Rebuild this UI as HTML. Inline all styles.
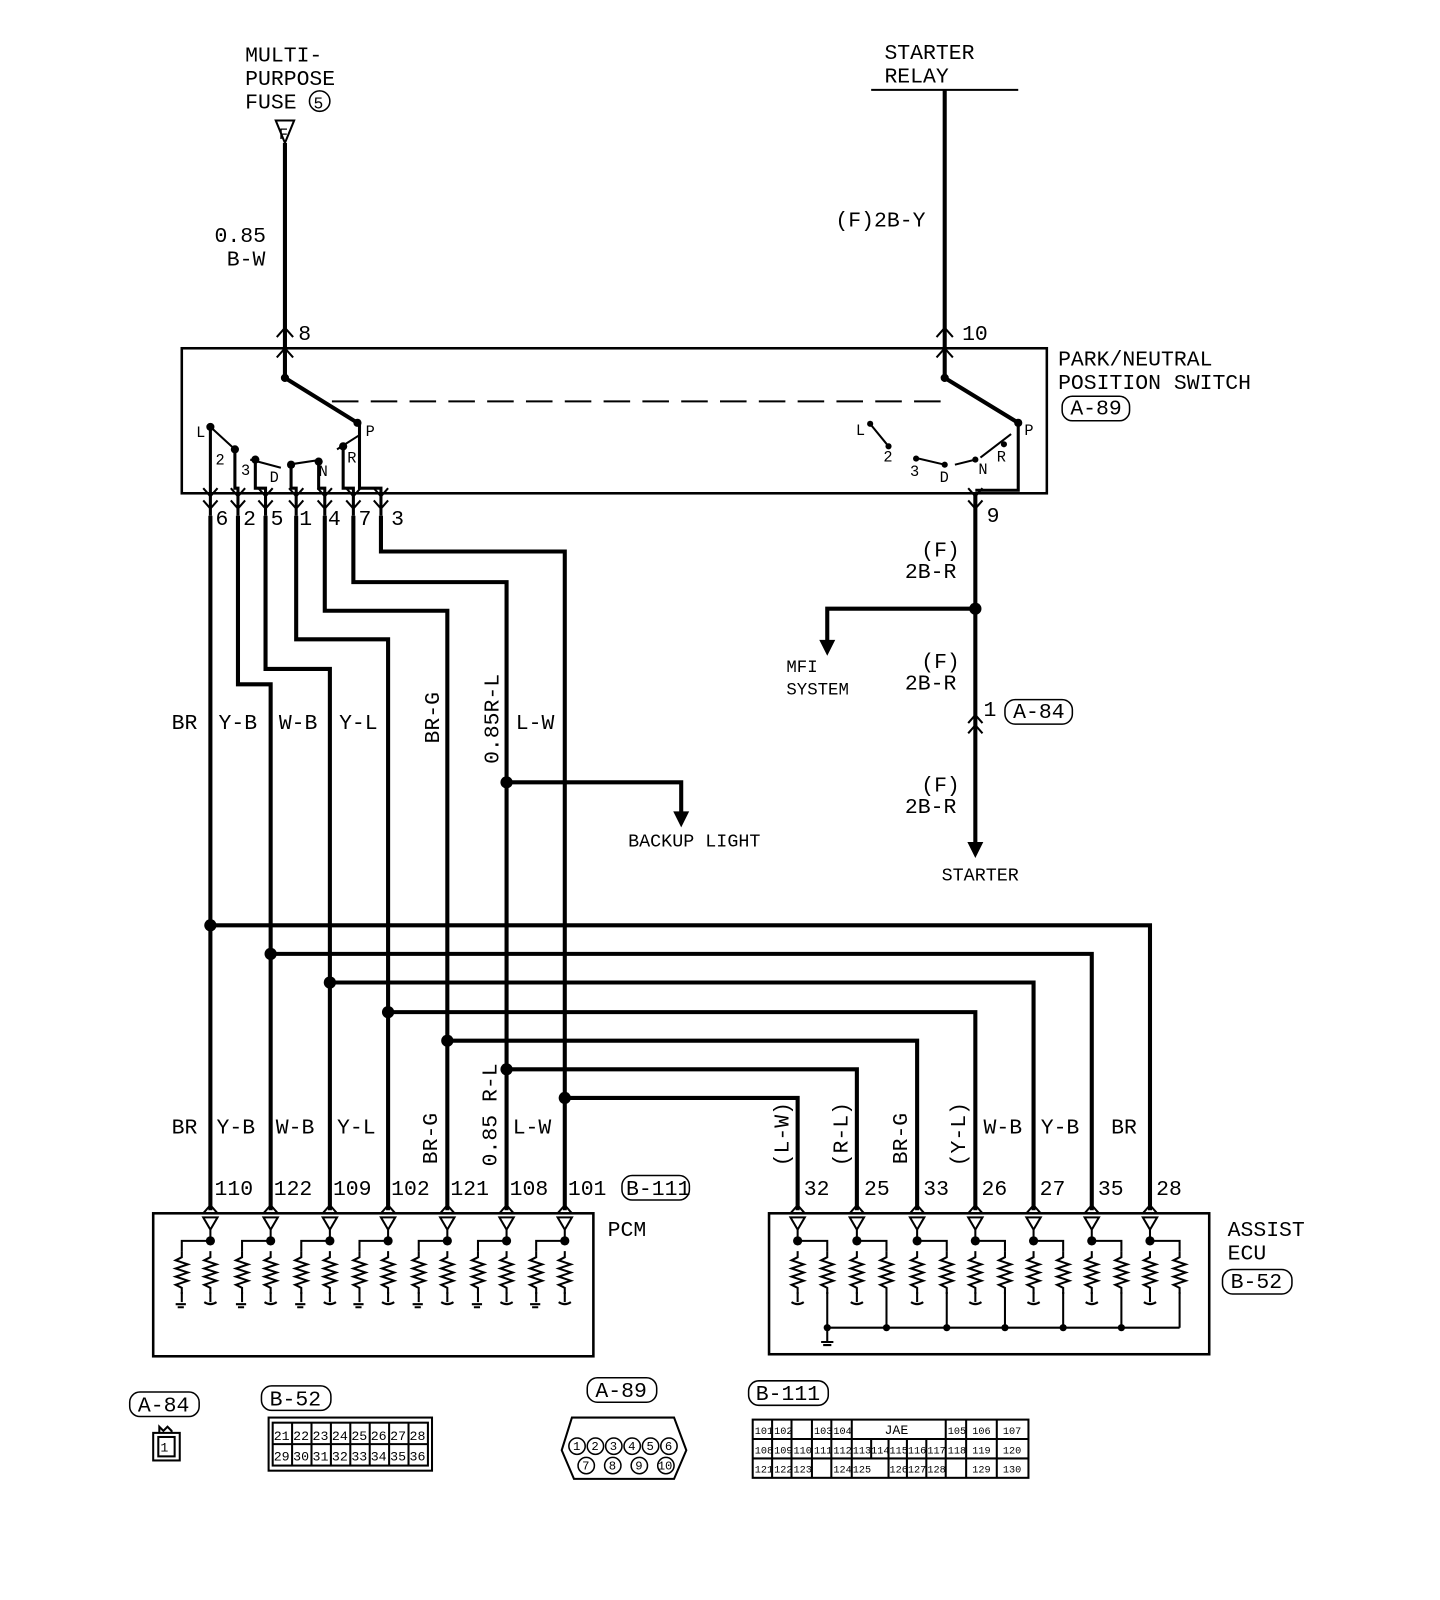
<!DOCTYPE html>
<html><head><meta charset="utf-8"><style>
html,body{margin:0;padding:0;background:#fff;}
svg{display:block}
text{font-family:"Liberation Mono",monospace;fill:#000;}
</style></head><body>
<svg width="1440" height="1600" viewBox="0 0 1440 1600" xmlns="http://www.w3.org/2000/svg">
<defs>
<g id="res"><path d="M0,0 v6 l-6,3 l12,4 l-12,4 l12,4 l-12,4 l12,4 l-12,4 l6,3 v6" fill="none" stroke="#000" stroke-width="2"/></g>
<g id="pcm">
 <path d="M-7,1192 h14 l-7,12 z M0,1204 v11 M0,1215 h-28 v10 M-28,1265 v10 M0,1265 v10 M-6,1275 q6,4 12,0" fill="none" stroke="#000" stroke-width="2"/>
 <circle cx="0" cy="1215" r="4.5"/>
 <use href="#res" x="-28" y="1225"/><use href="#res" x="0" y="1225"/>
 <path d="M-34,1277 h10 M-32,1280 h6" stroke="#000" stroke-width="2"/>
 <path d="M0,1180 l-7,8 M0,1180 l7,8" stroke="#000" stroke-width="2" fill="none"/>
</g>
<g id="ecu">
 <path d="M-7,1192 h14 l-7,12 z M0,1204 v11 M0,1215 h29 v10 M29,1265 v35 M0,1265 v10 M-6,1275 q6,4 12,0" fill="none" stroke="#000" stroke-width="2"/>
 <circle cx="0" cy="1215" r="4.5"/>
 <use href="#res" x="0" y="1225"/><use href="#res" x="29" y="1225"/>
 <path d="M0,1180 l-7,8 M0,1180 l7,8" stroke="#000" stroke-width="2" fill="none"/>
</g>
</defs>
<g transform="scale(1.0213)">
<g stroke="#000" fill="none">
<path d="M279,140 V370 L350,414" stroke-width="4"/>
<path d="M270,118 h18 l-9,22 z" stroke-width="2"/>
<path d="M853,88 H997" stroke-width="2"/>
<path d="M925,88 V370 L997,414" stroke-width="4"/>
<path d="M271,330 l8,-9 l8,9 M271,350 l8,-9 l8,9 M917,330 l8,-9 l8,9 M917,350 l8,-9 l8,9" stroke-width="2"/>
<rect x="178" y="341" width="847" height="142" stroke-width="2.5"/>
<path d="M325,393 H922" stroke-width="2" stroke-dasharray="26,12"/>
<path d="M206,418 L230,440 M245,450 L275,458 M282,455 L315,450 M330,440 L352,426" stroke-width="2"/>
<path d="M206,418 V505 M230,440 V478 H233 V505 M250,450 V478 H260 V505 M285,455 V478 H290 V505 M312,452 V478 H318 V505 M336,437 V478 H346 V505 M352,414 V478 H373 V505" stroke-width="3"/>
<path d="M852,415 L870,437 M895,448 L925,455 M935,455 L955,450 M960,448 L990,425" stroke-width="2"/>
<path d="M997,414 V480 H955" stroke-width="3"/>
<path d="M199,478 l7,8 l7,-8 M199,490 l7,8 l7,-8 M226,478 l7,8 l7,-8 M226,490 l7,8 l7,-8 M253,478 l7,8 l7,-8 M253,490 l7,8 l7,-8 M283,478 l7,8 l7,-8 M283,490 l7,8 l7,-8 M311,478 l7,8 l7,-8 M311,490 l7,8 l7,-8 M339,478 l7,8 l7,-8 M339,490 l7,8 l7,-8 M366,478 l7,8 l7,-8 M366,490 l7,8 l7,-8 M948,478 l7,8 l7,-8 M948,490 l7,8 l7,-8" stroke-width="2"/>
<path d="M206,505 V1185" stroke-width="4"/>
<path d="M233,505 V670 H265 V1185" stroke-width="4"/>
<path d="M260,505 V655 H323 V1185" stroke-width="4"/>
<path d="M290,505 V626 H380 V1185" stroke-width="4"/>
<path d="M318,505 V598 H438 V1185" stroke-width="4"/>
<path d="M346,505 V570 H496 V1185" stroke-width="4"/>
<path d="M373,505 V540 H553 V1185" stroke-width="4"/>
<path d="M496,766 H667 V800" stroke-width="4"/>
<path d="M660,795 l7,14 l7,-14 z" fill="#000" stroke-width="1"/>
<path d="M955,483 V830" stroke-width="4"/>
<path d="M948,825 l7,14 l7,-14 z" fill="#000" stroke-width="1"/>
<path d="M955,596 H810 V632" stroke-width="4"/>
<path d="M803,627 l7,14 l7,-14 z" fill="#000" stroke-width="1"/>
<path d="M948,708 l7,-8 l7,8 M948,718 l7,-8 l7,8" stroke-width="2"/>
<path d="M206,906 H1126 V1185" stroke-width="4"/>
<path d="M265,934 H1069 V1185" stroke-width="4"/>
<path d="M323,962 H1012 V1185" stroke-width="4"/>
<path d="M380,991 H955 V1185" stroke-width="4"/>
<path d="M438,1019 H898 V1185" stroke-width="4"/>
<path d="M496,1047 H839 V1185" stroke-width="4"/>
<path d="M553,1075 H781 V1185" stroke-width="4"/>
<rect x="150" y="1188" width="431" height="140" stroke-width="2.5"/>
<rect x="753" y="1188" width="431" height="138" stroke-width="2.5"/>
<path d="M810,1300 H1155 M810,1300 V1314 M804,1314 h12 M806,1317 h8" stroke-width="2"/>
</g>
<g fill="#000">
<circle cx="279" cy="370" r="4"/><circle cx="925" cy="370" r="4"/>
<circle cx="350" cy="414" r="4"/><circle cx="997" cy="414" r="4"/>
<circle cx="206" cy="418" r="4"/><circle cx="230" cy="440" r="4"/><circle cx="250" cy="450" r="4"/><circle cx="285" cy="455" r="4"/><circle cx="312" cy="452" r="4"/><circle cx="336" cy="437" r="4"/>
<circle cx="852" cy="415" r="3"/><circle cx="870" cy="437" r="3"/><circle cx="897" cy="449" r="3"/><circle cx="925" cy="455" r="3"/><circle cx="955" cy="450" r="3"/><circle cx="983" cy="435" r="3"/>
<circle cx="496" cy="766" r="6"/><circle cx="955" cy="596" r="6"/>
<circle cx="206" cy="906" r="6"/><circle cx="265" cy="934" r="6"/><circle cx="323" cy="962" r="6"/><circle cx="380" cy="991" r="6"/><circle cx="438" cy="1019" r="6"/><circle cx="496" cy="1047" r="6"/><circle cx="553" cy="1075" r="6"/>
<circle cx="810" cy="1300" r="3.5"/><circle cx="868" cy="1300" r="3.5"/><circle cx="927" cy="1300" r="3.5"/><circle cx="984" cy="1300" r="3.5"/><circle cx="1041" cy="1300" r="3.5"/><circle cx="1098" cy="1300" r="3.5"/>
</g>
<use href="#pcm" x="206"/><use href="#pcm" x="265"/><use href="#pcm" x="323"/><use href="#pcm" x="380"/><use href="#pcm" x="438"/><use href="#pcm" x="496"/><use href="#pcm" x="553"/>
<use href="#ecu" x="781"/><use href="#ecu" x="839"/><use href="#ecu" x="898"/><use href="#ecu" x="955"/><use href="#ecu" x="1012"/><use href="#ecu" x="1069"/><use href="#ecu" x="1126"/>

<g font-size="21">
<text x="240" y="60">MULTI-</text><text x="240" y="83">PURPOSE</text><text x="240" y="106">FUSE</text>
<circle cx="313" cy="99" r="10" fill="none" stroke="#000" stroke-width="1.5"/><text x="307" y="106" font-size="16">5</text>
<text x="273" y="136" font-size="15">F</text>
<text x="866" y="58">STARTER</text><text x="866" y="81">RELAY</text>
<text x="210" y="237">0.85</text><text x="222" y="260">B-W</text>
<text x="818" y="222">(F)2B-Y</text>
<text x="292" y="333">8</text><text x="942" y="333">10</text>
<text x="1036" y="358">PARK/NEUTRAL</text><text x="1036" y="381">POSITION SWITCH</text>
<text x="1048" y="406">A-89</text>
<rect x="1040" y="388" width="66" height="24" rx="10" fill="none" stroke="#000" stroke-width="1.5"/>
<g font-size="15"><text x="192" y="428">L</text><text x="211" y="455">2</text><text x="236" y="465">3</text><text x="264" y="472">D</text><text x="312" y="466">N</text><text x="340" y="453">R</text><text x="358" y="427">P</text>
<text x="838" y="426">L</text><text x="865" y="452">2</text><text x="891" y="466">3</text><text x="920" y="472">D</text><text x="958" y="464">N</text><text x="976" y="452">R</text><text x="1003" y="426">P</text></g>
<text x="211" y="514">6</text><text x="238" y="514">2</text><text x="265" y="514">5</text><text x="293" y="514">1</text><text x="321" y="514">4</text><text x="351" y="514">7</text><text x="383" y="514">3</text>
<text x="966" y="511">9</text>
<text x="902" y="545">(F)</text><text x="886" y="566">2B-R</text>
<text x="902" y="654">(F)</text><text x="886" y="675">2B-R</text>
<text x="902" y="775">(F)</text><text x="886" y="796">2B-R</text>
<text x="770" y="658" font-size="17">MFI</text><text x="770" y="680" font-size="17">SYSTEM</text>
<text x="963" y="701">1</text><text x="992" y="703">A-84</text>
<rect x="984" y="685" width="66" height="24" rx="10" fill="none" stroke="#000" stroke-width="1.5"/>
<text x="615" y="829" font-size="18">BACKUP LIGHT</text>
<text x="922" y="862" font-size="18">STARTER</text>
<text x="168" y="714">BR</text><text x="214" y="714">Y-B</text><text x="273" y="714">W-B</text><text x="332" y="714">Y-L</text><text x="505" y="714">L-W</text>
<text transform="translate(430,728) rotate(-90)">BR-G</text>
<text transform="translate(488,748) rotate(-90)">0.85R-L</text>
<text x="168" y="1110">BR</text><text x="212" y="1110">Y-B</text><text x="270" y="1110">W-B</text><text x="330" y="1110">Y-L</text><text x="502" y="1110">L-W</text>
<text transform="translate(428,1140) rotate(-90)">BR-G</text>
<text transform="translate(486,1142) rotate(-90)">0.85 R-L</text>
<text transform="translate(772,1142) rotate(-90)">(L-W)</text>
<text transform="translate(830,1142) rotate(-90)">(R-L)</text>
<text transform="translate(888,1140) rotate(-90)">BR-G</text>
<text transform="translate(945,1142) rotate(-90)">(Y-L)</text>
<text x="963" y="1110">W-B</text><text x="1019" y="1110">Y-B</text><text x="1088" y="1110">BR</text>
<text x="210" y="1170">110</text><text x="268" y="1170">122</text><text x="326" y="1170">109</text><text x="383" y="1170">102</text><text x="441" y="1170">121</text><text x="499" y="1170">108</text><text x="556" y="1170">101</text>
<text x="613" y="1170">B-111</text>
<rect x="609" y="1151" width="66" height="24" rx="10" fill="none" stroke="#000" stroke-width="1.5"/>
<text x="787" y="1170">32</text><text x="846" y="1170">25</text><text x="904" y="1170">33</text><text x="961" y="1170">26</text><text x="1018" y="1170">27</text><text x="1075" y="1170">35</text><text x="1132" y="1170">28</text>
<text x="595" y="1210">PCM</text>
<text x="1202" y="1210">ASSIST</text><text x="1202" y="1233">ECU</text>
<text x="1205" y="1261">B-52</text>
<rect x="1197" y="1243" width="68" height="24" rx="10" fill="none" stroke="#000" stroke-width="1.5"/>
<text x="135" y="1382">A-84</text><rect x="127" y="1363" width="68" height="24" rx="10" fill="none" stroke="#000" stroke-width="1.5"/>
<text x="264" y="1376">B-52</text><rect x="256" y="1357" width="68" height="24" rx="10" fill="none" stroke="#000" stroke-width="1.5"/>
<text x="583" y="1368">A-89</text><rect x="575" y="1349" width="68" height="24" rx="10" fill="none" stroke="#000" stroke-width="1.5"/>
<text x="740" y="1371">B-111</text><rect x="733" y="1352" width="78" height="24" rx="10" fill="none" stroke="#000" stroke-width="1.5"/>
</g>
<g fill="none" stroke="#000" stroke-width="2">
<rect x="150" y="1403" width="26" height="27"/><rect x="155" y="1407" width="16" height="19"/>
<path d="M156,1403 v-6 l4,4 l4,-4 l4,4 v2"/>
<rect x="263" y="1388" width="160" height="52"/><rect x="267" y="1393" width="152" height="42"/>
<path d="M267,1414 h152 M286,1393 v42 M305,1393 v42 M324,1393 v42 M343,1393 v42 M362,1393 v42 M381,1393 v42 M400,1393 v42"/>
<path d="M560,1388 H660 L672,1420 L660,1448 H562 L550,1420 Z"/>
<rect x="737" y="1390" width="270" height="57"/>
<path d="M737,1409 h270 M737,1428 h270 M756,1390 v57 M775,1390 v57 M795,1390 v57 M814,1390 v57 M834,1390 v57 M853,1409 v19 M870,1409 v38 M888,1409 v38 M907,1409 v38 M926,1390 v57 M946,1390 v57 M976,1390 v57"/>
</g>
<g font-size="13">
<text x="157" y="1421">1</text>
<text x="268" y="1410">21</text><text x="287" y="1410">22</text><text x="306" y="1410">23</text><text x="325" y="1410">24</text><text x="344" y="1410">25</text><text x="363" y="1410">26</text><text x="382" y="1410">27</text><text x="401" y="1410">28</text>
<text x="268" y="1430">29</text><text x="287" y="1430">30</text><text x="306" y="1430">31</text><text x="325" y="1430">32</text><text x="344" y="1430">33</text><text x="363" y="1430">34</text><text x="382" y="1430">35</text><text x="401" y="1430">36</text>
</g>
<g fill="none" stroke="#000" stroke-width="1.5">
<circle cx="565" cy="1416" r="8"/><circle cx="583" cy="1416" r="8"/><circle cx="601" cy="1416" r="8"/><circle cx="619" cy="1416" r="8"/><circle cx="637" cy="1416" r="8"/><circle cx="655" cy="1416" r="8"/>
<circle cx="574" cy="1435" r="8"/><circle cx="600" cy="1435" r="8"/><circle cx="626" cy="1435" r="8"/><circle cx="652" cy="1435" r="8"/>
</g>
<g font-size="12">
<text x="561" y="1420">1</text><text x="579" y="1420">2</text><text x="597" y="1420">3</text><text x="615" y="1420">4</text><text x="633" y="1420">5</text><text x="651" y="1420">6</text>
<text x="570" y="1439">7</text><text x="596" y="1439">8</text><text x="622" y="1439">9</text><text x="644" y="1439">10</text>
</g>
<g font-size="10">
<text x="739" y="1404">101</text><text x="758" y="1404">102</text><text x="797" y="1404">103</text><text x="816" y="1404">104</text><text x="866" y="1404" font-size="13">JAE</text><text x="928" y="1404">105</text><text x="952" y="1404">106</text><text x="982" y="1404">107</text>
<text x="739" y="1423">108</text><text x="758" y="1423">109</text><text x="777" y="1423">110</text><text x="797" y="1423">111</text><text x="816" y="1423">112</text><text x="835" y="1423">113</text><text x="853" y="1423">114</text><text x="871" y="1423">115</text><text x="889" y="1423">116</text><text x="908" y="1423">117</text><text x="928" y="1423">118</text><text x="952" y="1423">119</text><text x="982" y="1423">120</text>
<text x="739" y="1442">121</text><text x="758" y="1442">122</text><text x="777" y="1442">123</text><text x="816" y="1442">124</text><text x="835" y="1442">125</text><text x="871" y="1442">126</text><text x="889" y="1442">127</text><text x="908" y="1442">128</text><text x="952" y="1442">129</text><text x="982" y="1442">130</text>
</g>
</g>
</svg>
</body></html>
